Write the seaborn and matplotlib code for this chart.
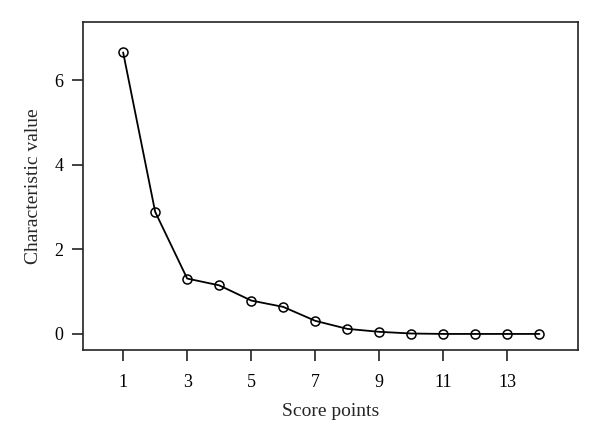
import pandas as pd
import seaborn as sns
import matplotlib.pyplot as plt

# Scree plot values
score_points = [1, 2, 3, 4, 5, 6, 7, 8, 9, 10, 11, 12, 13, 14]
char_values = [6.66, 2.89, 1.31, 1.15, 0.79, 0.64, 0.31, 0.12, 0.05, 0.01, 0.0, 0.0, 0.0, 0.0]
x_ticks = [1, 3, 5, 7, 9, 11, 13]
y_ticks = [0, 2, 4, 6]


def main():
    df = pd.DataFrame({"Score points": score_points, "Characteristic value": char_values})

    sns.set_theme(style="ticks")
    plt.rcParams["font.family"] = ["Liberation Serif", "DejaVu Serif"]

    fig = plt.figure(figsize=(6, 4.45), dpi=100)
    ax = fig.add_axes([0.138, 0.2135, 0.825, 0.737])

    sns.lineplot(
        data=df, x="Score points", y="Characteristic value", ax=ax,
        color="black", linewidth=1.3, marker="o", markersize=6.5,
        markerfacecolor="none", markeredgecolor="black", markeredgewidth=1.1,
    )

    ax.set_xlim(-0.26, 15.2)
    ax.set_ylim(-0.38, 7.38)
    ax.set_xticks(x_ticks)
    ax.set_yticks(y_ticks)

    for side in ["top", "right", "left", "bottom"]:
        ax.spines[side].set_visible(True)
        ax.spines[side].set_color("#222222")
        ax.spines[side].set_linewidth(1.2)

    ax.tick_params(axis="both", direction="out", length=8, width=1.2,
                   colors="#222222", labelcolor="black", labelsize=13)
    ax.tick_params(axis="x", pad=9)
    ax.tick_params(axis="y", pad=6)
    ax.set_xlabel("Score points", fontsize=14, labelpad=9)
    ax.set_ylabel("Characteristic value", fontsize=14, labelpad=9)

    fig.savefig("out.png", dpi=100)


if __name__ == "__main__":
    main()
